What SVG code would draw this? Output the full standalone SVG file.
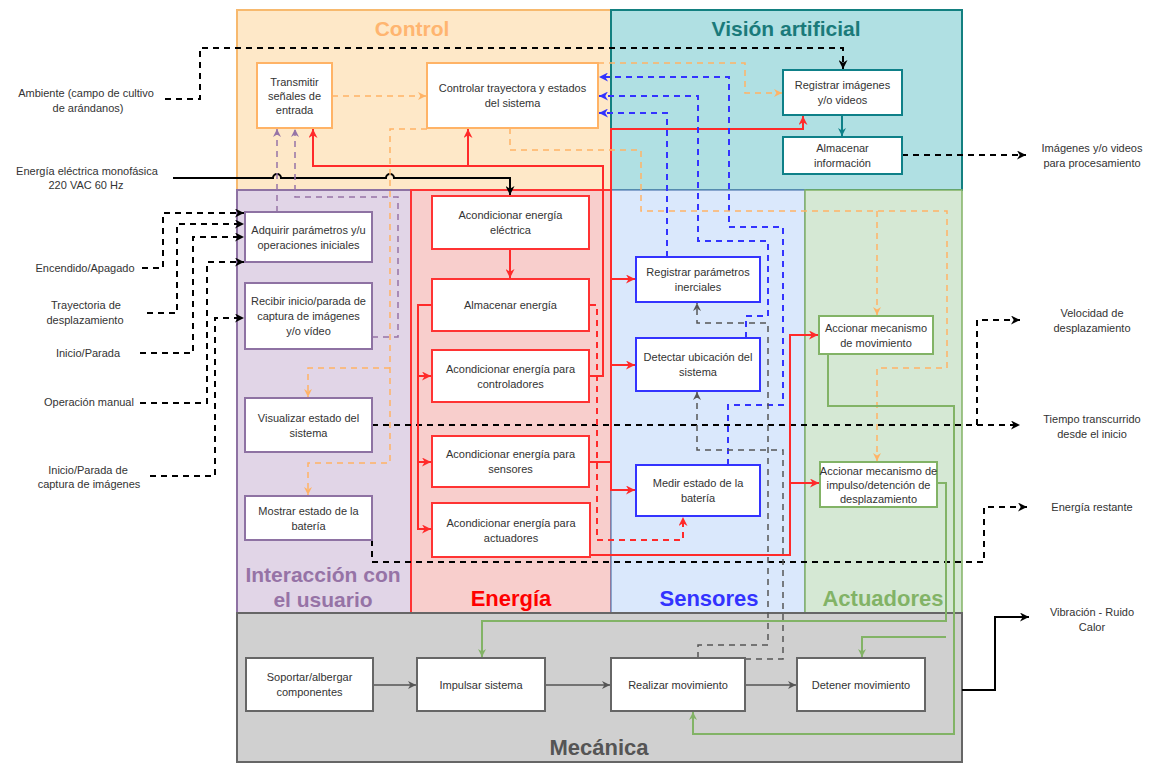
<svg xmlns="http://www.w3.org/2000/svg" width="1156" height="763" viewBox="0 0 1156 763">
<style>
.t{font-family:"Liberation Sans",Arial,sans-serif;font-size:11px;fill:#333;text-anchor:middle}
.h{font-family:"Liberation Sans",Arial,sans-serif;font-weight:bold;text-anchor:middle}
.nc{fill:#fff;stroke:#ffb366;stroke-width:2}
.nv{fill:#fff;stroke:#0e8088;stroke-width:2}
.ni{fill:#fff;stroke:#8e72a3;stroke-width:2}
.ne{fill:#fff;stroke:#ff3333;stroke-width:2}
.ns{fill:#fff;stroke:#3333ff;stroke-width:2}
.na{fill:#fff;stroke:#82b366;stroke-width:2}
.nm{fill:#fff;stroke:#666;stroke-width:2}
.c path{fill:none}
.bkd{stroke:#000;stroke-width:2;stroke-dasharray:6 5}
.bk{stroke:#000;stroke-width:2}
.rd{stroke:#ff2a2a;stroke-width:2}
.rdd{stroke:#ff2a2a;stroke-width:2;stroke-dasharray:6 5}
.bld{stroke:#3333ff;stroke-width:2;stroke-dasharray:6 5}
.ord{stroke:#ffb366;stroke-width:1.5;stroke-dasharray:6 5}
.pud{stroke:#9673a6;stroke-width:1.5;stroke-dasharray:6 5}
.gr{stroke:#82b366;stroke-width:2}
.gyd{stroke:#555;stroke-width:1.5;stroke-dasharray:6 5}
.gy{stroke:#555;stroke-width:1.5}
.tl{stroke:#0e8088;stroke-width:2}
</style>
<defs>
<marker id="mk" viewBox="0 0 10 10" refX="10" refY="5" markerWidth="9" markerHeight="9" markerUnits="userSpaceOnUse" orient="auto"><path d="M0,0 L10,5 L0,10 L3,5 z" fill="#000"/></marker>
<marker id="mr" viewBox="0 0 10 10" refX="10" refY="5" markerWidth="9" markerHeight="9" markerUnits="userSpaceOnUse" orient="auto"><path d="M0,0 L10,5 L0,10 L3,5 z" fill="#ff2a2a"/></marker>
<marker id="mb" viewBox="0 0 10 10" refX="10" refY="5" markerWidth="9" markerHeight="9" markerUnits="userSpaceOnUse" orient="auto"><path d="M0,0 L10,5 L0,10 L3,5 z" fill="#3333ff"/></marker>
<marker id="mo" viewBox="0 0 10 10" refX="10" refY="5" markerWidth="8" markerHeight="8" markerUnits="userSpaceOnUse" orient="auto"><path d="M0,0 L10,5 L0,10 L3,5 z" fill="#ffb366"/></marker>
<marker id="mp" viewBox="0 0 10 10" refX="10" refY="5" markerWidth="8" markerHeight="8" markerUnits="userSpaceOnUse" orient="auto"><path d="M0,0 L10,5 L0,10 L3,5 z" fill="#9673a6"/></marker>
<marker id="mg" viewBox="0 0 10 10" refX="10" refY="5" markerWidth="8" markerHeight="8" markerUnits="userSpaceOnUse" orient="auto"><path d="M0,0 L10,5 L0,10 L3,5 z" fill="#82b366"/></marker>
<marker id="my" viewBox="0 0 10 10" refX="10" refY="5" markerWidth="8" markerHeight="8" markerUnits="userSpaceOnUse" orient="auto"><path d="M0,0 L10,5 L0,10 L3,5 z" fill="#555"/></marker>
<marker id="mt" viewBox="0 0 10 10" refX="10" refY="5" markerWidth="8" markerHeight="8" markerUnits="userSpaceOnUse" orient="auto"><path d="M0,0 L10,5 L0,10 L3,5 z" fill="#0e8088"/></marker>
</defs>
<rect width="1156" height="763" fill="#fff"/>
<!-- lanes -->
<g id="lanes">
<rect id="lane-control" x="237" y="10" width="374" height="180" fill="#fee8c8" stroke="#f7b96e" stroke-width="2"/>
<rect id="lane-vision" x="611" y="10" width="351" height="180" fill="#b0e0e3" stroke="#138080" stroke-width="2"/>
<rect id="lane-interaccion" x="237" y="190" width="174" height="423" fill="#e1d5e7" stroke="#8e72a3" stroke-width="2"/>
<rect id="lane-energia" x="411" y="190" width="200" height="423" fill="#f8cecc" stroke="#ff3333" stroke-width="2"/>
<rect id="lane-sensores" x="611" y="190" width="194" height="423" fill="#dae8fc" stroke="#6c8ebf" stroke-width="1.5"/>
<rect id="lane-actuadores" x="805" y="190" width="157" height="423" fill="#d5e8d4" stroke="#82b366" stroke-width="1.5"/>
<rect id="lane-mecanica" x="237" y="613" width="725" height="149" fill="#d0d0d0" stroke="#666" stroke-width="2"/>
<text class="h" x="412" y="36" font-size="21" fill="#ffb570">Control</text>
<text class="h" x="786" y="36" font-size="21" fill="#1a7a7a">Visión artificial</text>
<text class="h" x="323" y="582" font-size="21" fill="#9673a6">Interacción con</text>
<text class="h" x="323" y="607" font-size="21" fill="#9673a6">el usuario</text>
<text class="h" x="511" y="606" font-size="22" fill="#ff0000">Energía</text>
<text class="h" x="709" y="606" font-size="22" fill="#3333ff">Sensores</text>
<text class="h" x="883" y="606" font-size="22" fill="#82b366">Actuadores</text>
<text class="h" x="599" y="755" font-size="22" fill="#555">Mecánica</text>
</g>
<!-- connectors -->
<g id="connectors" class="c">
<path class="bkd" d="M165,99 H200 V48 H843 V69" marker-end="url(#mk)"/>
<path class="bkd" d="M142,268 H163 V213 H244" marker-end="url(#mk)"/>
<path class="bkd" d="M147,313 H177 V224 H244" marker-end="url(#mk)"/>
<path class="bkd" d="M140,353 H193 V237 H244" marker-end="url(#mk)"/>
<path class="bkd" d="M140,403 H207 V262 H244" marker-end="url(#mk)"/>
<path class="bkd" d="M150,476 H215 V318 H244" marker-end="url(#mk)"/>
<path class="bkd" d="M372,425 H1020" marker-end="url(#mk)"/>
<path class="bkd" d="M977,425 V320 H1020" marker-end="url(#mk)"/>
<path class="bkd" d="M372,540 V562 H984 V507 H1027" marker-end="url(#mk)"/>
<path class="bkd" d="M902,155 H1026" marker-end="url(#mk)"/>
<path class="bk" d="M173,178 H273 a4,4 0 0 1 8,0 H386 a4,4 0 0 1 8,0 H510 V195" marker-end="url(#mk)"/>
<path class="bk" d="M962,690 H995 V617 H1029" marker-end="url(#mk)"/>
<path class="rd" d="M510,249 V278" marker-end="url(#mr)"/>
<path class="rd" d="M590,376 H603 V166 H313 V129" marker-end="url(#mr)"/>
<path class="rd" d="M468,166 V129" marker-end="url(#mr)"/>
<path class="rd" d="M590,462 H611 V129 H803 V116" marker-end="url(#mr)"/>
<path class="rd" d="M611,279 H635" marker-end="url(#mr)"/>
<path class="rd" d="M611,365 H635" marker-end="url(#mr)"/>
<path class="rd" d="M611,462 V490 H635" marker-end="url(#mr)"/>
<path class="rd" d="M590,555 H790 V335 H818" marker-end="url(#mr)"/>
<path class="rd" d="M790,483 H819" marker-end="url(#mr)"/>
<path class="rd" d="M432,305 H418 V529 H431" marker-end="url(#mr)"/>
<path class="rd" d="M418,376 H431" marker-end="url(#mr)"/>
<path class="rd" d="M418,462 H431" marker-end="url(#mr)"/>
<path class="rdd" d="M590,305 H597 V540 H683 V517" marker-end="url(#mr)"/>
<path class="bld" d="M667,257 V113 H599" marker-end="url(#mb)"/>
<path class="bld" d="M746,338 V316 H768 V241 H698 V96 H599" marker-end="url(#mb)"/>
<path class="bld" d="M728,465 V405 H783 V227 H729 V77 H599" marker-end="url(#mb)"/>
<path class="ord" d="M332,96 H426" marker-end="url(#mo)"/>
<path class="ord" d="M598,63 H745 V93 H782" marker-end="url(#mo)"/>
<path class="ord" d="M510,128 V150 H641 V211 H947 V368 H877 V461" marker-end="url(#mo)"/>
<path class="ord" d="M877,211 V315" marker-end="url(#mo)"/>
<path class="ord" d="M427,129 H390 V463 H308 V495" marker-end="url(#mo)"/>
<path class="ord" d="M390,368 H308 V397" marker-end="url(#mo)"/>
<path class="pud" d="M277,212 V129" marker-end="url(#mp)"/>
<path class="pud" d="M372,337 H398 V197 H295 V129" marker-end="url(#mp)"/>
<path class="gr" d="M937,483 H946 V621 H482 V657" marker-end="url(#mg)"/>
<path class="gr" d="M946,637 H862 V657" marker-end="url(#mg)"/>
<path class="gr" d="M828,354 V406 H954 V734 H693 V712" marker-end="url(#mg)"/>
<path class="gyd" d="M698,658 V645 H768 V323 H697 V303" marker-end="url(#my)"/>
<path class="gyd" d="M745,659 H783 V450 H697 V392" marker-end="url(#my)"/>
<path class="gy" d="M373,685 H416" marker-end="url(#my)"/>
<path class="gy" d="M545,685 H610" marker-end="url(#my)"/>
<path class="gy" d="M745,685 H796" marker-end="url(#my)"/>
<path class="tl" d="M842,115 V136" marker-end="url(#mt)"/>
</g>
<!-- nodes -->
<g id="n-transmitir"><rect class="nc" x="257" y="63" width="75" height="65"/><text class="t" x="294.5" y="86">Transmitir</text><text class="t" x="294.5" y="100">señales de</text><text class="t" x="294.5" y="114">entrada</text></g>
<g id="n-controlar"><rect class="nc" x="427" y="63" width="171" height="65"/><text class="t" x="512.5" y="92">Controlar trayectora y estados</text><text class="t" x="512.5" y="107">del sistema</text></g>
<g id="n-registrar-img"><rect class="nv" x="783" y="70" width="119" height="45"/><text class="t" x="842.5" y="89">Registrar imágenes</text><text class="t" x="842.5" y="104">y/o videos</text></g>
<g id="n-almacenar-info"><rect class="nv" x="783" y="137" width="119" height="37"/><text class="t" x="842.5" y="152">Almacenar</text><text class="t" x="842.5" y="167">información</text></g>
<g id="n-adquirir"><rect class="ni" x="245" y="212" width="127" height="50"/><text class="t" x="308.5" y="233.5">Adquirir parámetros y/u</text><text class="t" x="308.5" y="248.5">operaciones iniciales</text></g>
<g id="n-recibir"><rect class="ni" x="245" y="283" width="127" height="66"/><text class="t" x="308.5" y="305">Recibir inicio/parada de</text><text class="t" x="308.5" y="320">captura de imágenes</text><text class="t" x="308.5" y="335">y/o vídeo</text></g>
<g id="n-visualizar"><rect class="ni" x="245" y="398" width="127" height="54"/><text class="t" x="308.5" y="421.5">Visualizar estado del</text><text class="t" x="308.5" y="436.5">sistema</text></g>
<g id="n-mostrar"><rect class="ni" x="245" y="496" width="127" height="44"/><text class="t" x="308.5" y="514.5">Mostrar estado de la</text><text class="t" x="308.5" y="529.5">batería</text></g>
<g id="n-acond-electrica"><rect class="ne" x="432" y="196" width="157" height="53"/><text class="t" x="510.5" y="219">Acondicionar energía</text><text class="t" x="510.5" y="234">eléctrica</text></g>
<g id="n-almacenar-energia"><rect class="ne" x="432" y="279" width="157" height="52"/><text class="t" x="510.5" y="309">Almacenar energía</text></g>
<g id="n-acond-controladores"><rect class="ne" x="432" y="350" width="157" height="52"/><text class="t" x="510.5" y="372.5">Acondicionar energía para</text><text class="t" x="510.5" y="387.5">controladores</text></g>
<g id="n-acond-sensores"><rect class="ne" x="432" y="436" width="157" height="51"/><text class="t" x="510.5" y="458">Acondicionar energía para</text><text class="t" x="510.5" y="473">sensores</text></g>
<g id="n-acond-actuadores"><rect class="ne" x="432" y="503" width="158" height="54"/><text class="t" x="511" y="526.5">Acondicionar energía para</text><text class="t" x="511" y="541.5">actuadores</text></g>
<g id="n-registrar-inerciales"><rect class="ns" x="636" y="257" width="124" height="45"/><text class="t" x="698" y="276">Registrar parámetros</text><text class="t" x="698" y="291">inerciales</text></g>
<g id="n-detectar"><rect class="ns" x="636" y="338" width="124" height="53"/><text class="t" x="698" y="361">Detectar ubicación del</text><text class="t" x="698" y="376">sistema</text></g>
<g id="n-medir"><rect class="ns" x="636" y="465" width="124" height="51"/><text class="t" x="698" y="487">Medir estado de la</text><text class="t" x="698" y="502">batería</text></g>
<g id="n-accionar-mov"><rect class="na" x="819" y="316" width="114" height="38"/><text class="t" x="876" y="331.5">Accionar mecanismo</text><text class="t" x="876" y="346.5">de movimiento</text></g>
<g id="n-accionar-imp"><rect class="na" x="820" y="462" width="117" height="45"/><text class="t" x="878.5" y="474.5">Accionar mecanismo de</text><text class="t" x="878.5" y="488.5">impulso/detención de</text><text class="t" x="878.5" y="502.5">desplazamiento</text></g>
<g id="n-soportar"><rect class="nm" x="246" y="658" width="127" height="53"/><text class="t" x="309.5" y="681">Soportar/albergar</text><text class="t" x="309.5" y="696">componentes</text></g>
<g id="n-impulsar"><rect class="nm" x="417" y="658" width="128" height="53"/><text class="t" x="481" y="688.5">Impulsar sistema</text></g>
<g id="n-realizar"><rect class="nm" x="611" y="658" width="134" height="53"/><text class="t" x="678" y="688.5">Realizar movimiento</text></g>
<g id="n-detener"><rect class="nm" x="797" y="658" width="128" height="53"/><text class="t" x="861" y="688.5">Detener movimiento</text></g>
<!-- external labels -->
<g id="ext-labels">
<text class="t" x="86" y="97">Ambiente (campo de cultivo</text><text class="t" x="88" y="112">de arándanos)</text>
<text class="t" x="87" y="175">Energía eléctrica monofásica</text><text class="t" x="86" y="189">220 VAC 60 Hz</text>
<text class="t" x="85" y="272">Encendido/Apagado</text>
<text class="t" x="86" y="309">Trayectoria de</text><text class="t" x="85" y="324">desplazamiento</text>
<text class="t" x="88" y="357">Inicio/Parada</text>
<text class="t" x="89" y="406">Operación manual</text>
<text class="t" x="88" y="474">Inicio/Parada de</text><text class="t" x="89" y="488">captura de imágenes</text>
<text class="t" x="1092" y="152">Imágenes y/o videos</text><text class="t" x="1092" y="167">para procesamiento</text>
<text class="t" x="1092" y="317">Velocidad de</text><text class="t" x="1092" y="332">desplazamiento</text>
<text class="t" x="1092" y="423">Tiempo transcurrido</text><text class="t" x="1092" y="438">desde el inicio</text>
<text class="t" x="1092" y="511">Energía restante</text>
<text class="t" x="1092" y="616">Vibración - Ruido</text><text class="t" x="1092" y="631">Calor</text>
</g>
</svg>
